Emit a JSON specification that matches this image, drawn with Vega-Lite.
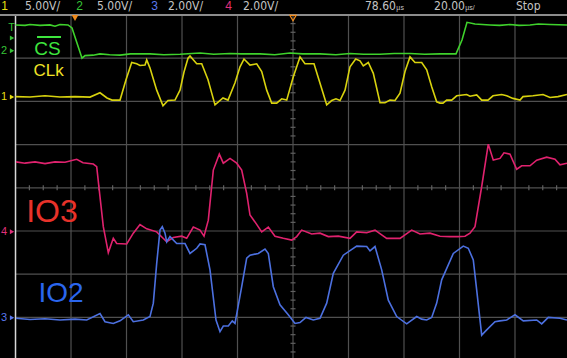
{
  "$schema": "https://vega.github.io/schema/vega-lite/v6.json",
  "width": 567,
  "height": 358,
  "padding": 0,
  "autosize": {"type": "none"},
  "background": "#000000",
  "config": {"view": {"stroke": null}, "font": "Liberation Sans"},
  "datasets": {
    "gridx": [{"t": -1.44}, {"t": 18.56}, {"t": 38.56}, {"t": 58.56}, {"t": 78.56}, {"t": 98.56}, {"t": 118.56}, {"t": 138.56}, {"t": 158.56}],
    "gridy": [{"v": 3}, {"v": 2}, {"v": 1}, {"v": 0}, {"v": -1}, {"v": -2}, {"v": -3}],
    "ticksx": [{"t":-16.44},{"t":-11.44},{"t":-6.44},{"t":3.56},{"t":8.56},{"t":13.56},{"t":23.56},{"t":28.56},{"t":33.56},{"t":43.56},{"t":48.56},{"t":53.56},{"t":63.56},{"t":68.56},{"t":73.56},{"t":83.56},{"t":88.56},{"t":93.56},{"t":103.56},{"t":108.56},{"t":113.56},{"t":123.56},{"t":128.56},{"t":133.56},{"t":143.56},{"t":148.56},{"t":153.56},{"t":163.56},{"t":168.56},{"t":173.56}],
    "ticksy": [{"v":-3.8},{"v":-3.6},{"v":-3.4},{"v":-3.2},{"v":-2.8},{"v":-2.6},{"v":-2.4},{"v":-2.2},{"v":-1.8},{"v":-1.6},{"v":-1.4},{"v":-1.2},{"v":-0.8},{"v":-0.6},{"v":-0.4},{"v":-0.2},{"v":0.2},{"v":0.4},{"v":0.6},{"v":0.8},{"v":1.2},{"v":1.4},{"v":1.6},{"v":1.8},{"v":2.2},{"v":2.4},{"v":2.6},{"v":2.8},{"v":3.2},{"v":3.4},{"v":3.6},{"v":3.8}],
    "traces": [
      {"ch":"CS","t":-21.44,"v":3.77},{"ch":"CS","t":-18,"v":3.76},{"ch":"CS","t":-16.22,"v":3.78},{"ch":"CS","t":-12.61,"v":3.76},{"ch":"CS","t":-9.01,"v":3.77},{"ch":"CS","t":-7.21,"v":3.74},{"ch":"CS","t":-5.41,"v":3.78},{"ch":"CS","t":-2.52,"v":3.77},{"ch":"CS","t":-1.08,"v":3.70},{"ch":"CS","t":2.52,"v":3.00},{"ch":"CS","t":3.60,"v":3.06},{"ch":"CS","t":6.49,"v":3.07},{"ch":"CS","t":9.01,"v":3.10},{"ch":"CS","t":12.5,"v":3.08},{"ch":"CS","t":16.22,"v":3.07},{"ch":"CS","t":20,"v":3.10},{"ch":"CS","t":27.03,"v":3.10},{"ch":"CS","t":32,"v":3.08},{"ch":"CS","t":37.84,"v":3.09},{"ch":"CS","t":45.05,"v":3.12},{"ch":"CS","t":50,"v":3.09},{"ch":"CS","t":55.86,"v":3.11},{"ch":"CS","t":60,"v":3.10},{"ch":"CS","t":66.67,"v":3.10},{"ch":"CS","t":72,"v":3.08},{"ch":"CS","t":77.48,"v":3.12},{"ch":"CS","t":82,"v":3.10},{"ch":"CS","t":88.29,"v":3.10},{"ch":"CS","t":94,"v":3.08},{"ch":"CS","t":99.10,"v":3.11},{"ch":"CS","t":104,"v":3.09},{"ch":"CS","t":109.91,"v":3.09},{"ch":"CS","t":115,"v":3.11},{"ch":"CS","t":120.72,"v":3.11},{"ch":"CS","t":126,"v":3.09},{"ch":"CS","t":131.53,"v":3.10},{"ch":"CS","t":137.30,"v":3.10},{"ch":"CS","t":139.46,"v":3.42},{"ch":"CS","t":141.26,"v":3.83},{"ch":"CS","t":144.14,"v":3.79},{"ch":"CS","t":149.55,"v":3.77},{"ch":"CS","t":153,"v":3.76},{"ch":"CS","t":156.76,"v":3.78},{"ch":"CS","t":160,"v":3.76},{"ch":"CS","t":163.96,"v":3.77},{"ch":"CS","t":167,"v":3.79},{"ch":"CS","t":171.17,"v":3.78},{"ch":"CS","t":177.30,"v":3.77},
      {"ch":"CLK","t":-21.44,"v":2.11},{"ch":"CLK","t":-16.22,"v":2.10},{"ch":"CLK","t":-10.81,"v":2.13},{"ch":"CLK","t":-5.41,"v":2.10},{"ch":"CLK","t":0,"v":2.11},{"ch":"CLK","t":5.41,"v":2.10},{"ch":"CLK","t":9.01,"v":2.20},{"ch":"CLK","t":11.53,"v":2.08},{"ch":"CLK","t":13.33,"v":2.03},{"ch":"CLK","t":16.22,"v":2.03},{"ch":"CLK","t":18.38,"v":2.50},{"ch":"CLK","t":20.43,"v":2.90},{"ch":"CLK","t":22.23,"v":2.87},{"ch":"CLK","t":23.42,"v":2.83},{"ch":"CLK","t":25.23,"v":2.84},{"ch":"CLK","t":25.84,"v":2.96},{"ch":"CLK","t":27.03,"v":2.77},{"ch":"CLK","t":29.44,"v":2.26},{"ch":"CLK","t":31.71,"v":1.90},{"ch":"CLK","t":33.51,"v":2.02},{"ch":"CLK","t":36.04,"v":2.03},{"ch":"CLK","t":37.84,"v":2.26},{"ch":"CLK","t":39.28,"v":2.68},{"ch":"CLK","t":40.72,"v":3.00},{"ch":"CLK","t":41.44,"v":3.05},{"ch":"CLK","t":43.86,"v":2.87},{"ch":"CLK","t":45.66,"v":2.87},{"ch":"CLK","t":47.93,"v":2.50},{"ch":"CLK","t":50.45,"v":1.92},{"ch":"CLK","t":53.33,"v":2.08},{"ch":"CLK","t":55.14,"v":2.03},{"ch":"CLK","t":57.66,"v":2.43},{"ch":"CLK","t":59.46,"v":2.80},{"ch":"CLK","t":60.90,"v":2.98},{"ch":"CLK","t":63.06,"v":2.84},{"ch":"CLK","t":65.48,"v":2.87},{"ch":"CLK","t":67.28,"v":2.69},{"ch":"CLK","t":69.08,"v":2.26},{"ch":"CLK","t":70.88,"v":1.96},{"ch":"CLK","t":72.68,"v":1.96},{"ch":"CLK","t":74.49,"v":2.06},{"ch":"CLK","t":76.29,"v":2.03},{"ch":"CLK","t":78.67,"v":2.57},{"ch":"CLK","t":81.08,"v":3.03},{"ch":"CLK","t":82.88,"v":2.87},{"ch":"CLK","t":86.13,"v":2.87},{"ch":"CLK","t":87.57,"v":2.57},{"ch":"CLK","t":90.70,"v":1.92},{"ch":"CLK","t":92.50,"v":2.02},{"ch":"CLK","t":94.05,"v":2.06},{"ch":"CLK","t":95.50,"v":2.02},{"ch":"CLK","t":97.30,"v":2.26},{"ch":"CLK","t":99.10,"v":2.80},{"ch":"CLK","t":101.15,"v":2.98},{"ch":"CLK","t":102.70,"v":2.94},{"ch":"CLK","t":103.89,"v":2.82},{"ch":"CLK","t":105.69,"v":2.90},{"ch":"CLK","t":107.50,"v":2.65},{"ch":"CLK","t":109.91,"v":1.97},{"ch":"CLK","t":111.71,"v":1.97},{"ch":"CLK","t":113.51,"v":2.03},{"ch":"CLK","t":115.32,"v":2.02},{"ch":"CLK","t":117.12,"v":2.19},{"ch":"CLK","t":118.92,"v":2.69},{"ch":"CLK","t":120.72,"v":3.03},{"ch":"CLK","t":122.52,"v":2.90},{"ch":"CLK","t":124.94,"v":2.90},{"ch":"CLK","t":126.74,"v":2.73},{"ch":"CLK","t":128.54,"v":2.34},{"ch":"CLK","t":130.34,"v":1.99},{"ch":"CLK","t":131.53,"v":1.96},{"ch":"CLK","t":132.61,"v":1.96},{"ch":"CLK","t":133.94,"v":2.03},{"ch":"CLK","t":135.75,"v":2.03},{"ch":"CLK","t":137.55,"v":2.13},{"ch":"CLK","t":141.15,"v":2.16},{"ch":"CLK","t":142.34,"v":2.12},{"ch":"CLK","t":144.76,"v":2.15},{"ch":"CLK","t":146.56,"v":2.03},{"ch":"CLK","t":148.83,"v":2.03},{"ch":"CLK","t":150.63,"v":2.13},{"ch":"CLK","t":153.76,"v":2.16},{"ch":"CLK","t":155.57,"v":2.13},{"ch":"CLK","t":157.84,"v":2.07},{"ch":"CLK","t":160.36,"v":2.03},{"ch":"CLK","t":161.44,"v":2.11},{"ch":"CLK","t":165.05,"v":2.13},{"ch":"CLK","t":168.65,"v":2.16},{"ch":"CLK","t":171.17,"v":2.09},{"ch":"CLK","t":174.05,"v":2.11},{"ch":"CLK","t":177.30,"v":2.16},
      {"ch":"IO3","t":-21.26,"v":0.60},{"ch":"IO3","t":-18.02,"v":0.57},{"ch":"IO3","t":-14.41,"v":0.60},{"ch":"IO3","t":-10.81,"v":0.56},{"ch":"IO3","t":-7.21,"v":0.60},{"ch":"IO3","t":-3.60,"v":0.59},{"ch":"IO3","t":0.61,"v":0.66},{"ch":"IO3","t":2.88,"v":0.58},{"ch":"IO3","t":6.59,"v":0.55},{"ch":"IO3","t":7.82,"v":0.49},{"ch":"IO3","t":9.01,"v":-0.21},{"ch":"IO3","t":10.20,"v":-0.90},{"ch":"IO3","t":12.00,"v":-1.50},{"ch":"IO3","t":13.80,"v":-1.17},{"ch":"IO3","t":15.03,"v":-1.29},{"ch":"IO3","t":18.63,"v":-1.30},{"ch":"IO3","t":21.01,"v":-1.05},{"ch":"IO3","t":23.42,"v":-0.85},{"ch":"IO3","t":25.84,"v":-0.95},{"ch":"IO3","t":29.44,"v":-1.02},{"ch":"IO3","t":33.05,"v":-1.25},{"ch":"IO3","t":35.42,"v":-1.15},{"ch":"IO3","t":38.45,"v":-1.12},{"ch":"IO3","t":40.25,"v":-1.17},{"ch":"IO3","t":42.63,"v":-0.91},{"ch":"IO3","t":45.05,"v":-0.98},{"ch":"IO3","t":46.49,"v":-1.12},{"ch":"IO3","t":48.04,"v":-0.75},{"ch":"IO3","t":49.84,"v":0.41},{"ch":"IO3","t":52.00,"v":0.78},{"ch":"IO3","t":53.44,"v":0.57},{"ch":"IO3","t":55.86,"v":0.68},{"ch":"IO3","t":58.27,"v":0.57},{"ch":"IO3","t":60.07,"v":0.41},{"ch":"IO3","t":61.87,"v":-0.13},{"ch":"IO3","t":63.06,"v":-0.63},{"ch":"IO3","t":64.86,"v":-0.79},{"ch":"IO3","t":67.28,"v":-1.02},{"ch":"IO3","t":69.66,"v":-0.91},{"ch":"IO3","t":72.07,"v":-1.12},{"ch":"IO3","t":75.06,"v":-1.17},{"ch":"IO3","t":78.09,"v":-1.21},{"ch":"IO3","t":79.89,"v":-1.13},{"ch":"IO3","t":81.69,"v":-0.98},{"ch":"IO3","t":85.30,"v":-1.07},{"ch":"IO3","t":88.29,"v":-1.05},{"ch":"IO3","t":91.28,"v":-1.13},{"ch":"IO3","t":94.88,"v":-1.12},{"ch":"IO3","t":99.10,"v":-1.17},{"ch":"IO3","t":101.51,"v":-1.02},{"ch":"IO3","t":105.12,"v":-1.04},{"ch":"IO3","t":108.11,"v":-0.98},{"ch":"IO3","t":110.52,"v":-1.09},{"ch":"IO3","t":112.32,"v":-1.17},{"ch":"IO3","t":117.12,"v":-1.17},{"ch":"IO3","t":118.92,"v":-1.09},{"ch":"IO3","t":121.33,"v":-0.98},{"ch":"IO3","t":124.32,"v":-1.07},{"ch":"IO3","t":127.93,"v":-1.05},{"ch":"IO3","t":131.53,"v":-1.12},{"ch":"IO3","t":135.14,"v":-1.13},{"ch":"IO3","t":138.12,"v":-1.13},{"ch":"IO3","t":140.54,"v":-1.12},{"ch":"IO3","t":142.34,"v":-1.05},{"ch":"IO3","t":144.14,"v":-0.90},{"ch":"IO3","t":146.56,"v":0.03},{"ch":"IO3","t":148.93,"v":1.01},{"ch":"IO3","t":150.74,"v":0.64},{"ch":"IO3","t":153.15,"v":0.68},{"ch":"IO3","t":154.59,"v":0.81},{"ch":"IO3","t":156.76,"v":0.78},{"ch":"IO3","t":159.17,"v":0.43},{"ch":"IO3","t":160.97,"v":0.51},{"ch":"IO3","t":163.96,"v":0.51},{"ch":"IO3","t":166.38,"v":0.64},{"ch":"IO3","t":169.98,"v":0.71},{"ch":"IO3","t":172.97,"v":0.66},{"ch":"IO3","t":174.77,"v":0.53},{"ch":"IO3","t":177.30,"v":0.57},
      {"ch":"IO2","t":-21.26,"v":-3.02},{"ch":"IO2","t":-16.22,"v":-3.05},{"ch":"IO2","t":-10.81,"v":-3.03},{"ch":"IO2","t":-5.41,"v":-3.06},{"ch":"IO2","t":0,"v":-3.04},{"ch":"IO2","t":4.22,"v":-3.06},{"ch":"IO2","t":9.01,"v":-2.91},{"ch":"IO2","t":10.81,"v":-3.10},{"ch":"IO2","t":13.80,"v":-3.14},{"ch":"IO2","t":16.22,"v":-3.08},{"ch":"IO2","t":19.21,"v":-2.94},{"ch":"IO2","t":21.01,"v":-3.10},{"ch":"IO2","t":24.61,"v":-3.06},{"ch":"IO2","t":27.03,"v":-2.98},{"ch":"IO2","t":28.22,"v":-2.67},{"ch":"IO2","t":29.44,"v":-1.75},{"ch":"IO2","t":30.63,"v":-0.98},{"ch":"IO2","t":31.46,"v":-0.90},{"ch":"IO2","t":32.43,"v":-1.05},{"ch":"IO2","t":33.05,"v":-1.25},{"ch":"IO2","t":34.23,"v":-1.13},{"ch":"IO2","t":36.65,"v":-1.29},{"ch":"IO2","t":39.64,"v":-1.29},{"ch":"IO2","t":41.44,"v":-1.52},{"ch":"IO2","t":43.86,"v":-1.40},{"ch":"IO2","t":45.05,"v":-1.30},{"ch":"IO2","t":46.85,"v":-1.32},{"ch":"IO2","t":48.65,"v":-1.90},{"ch":"IO2","t":50.81,"v":-3.06},{"ch":"IO2","t":52.25,"v":-3.33},{"ch":"IO2","t":53.44,"v":-3.20},{"ch":"IO2","t":55.24,"v":-3.20},{"ch":"IO2","t":56.68,"v":-3.08},{"ch":"IO2","t":57.66,"v":-3.14},{"ch":"IO2","t":60.07,"v":-2.29},{"ch":"IO2","t":61.87,"v":-1.63},{"ch":"IO2","t":63.06,"v":-1.56},{"ch":"IO2","t":66.05,"v":-1.52},{"ch":"IO2","t":68.47,"v":-1.42},{"ch":"IO2","t":69.66,"v":-1.52},{"ch":"IO2","t":71.46,"v":-2.29},{"ch":"IO2","t":73.87,"v":-2.71},{"ch":"IO2","t":76.86,"v":-2.94},{"ch":"IO2","t":79.28,"v":-3.14},{"ch":"IO2","t":81.08,"v":-3.12},{"ch":"IO2","t":83.24,"v":-3.00},{"ch":"IO2","t":85.87,"v":-3.06},{"ch":"IO2","t":88.29,"v":-3.02},{"ch":"IO2","t":90.70,"v":-2.67},{"ch":"IO2","t":93.08,"v":-1.98},{"ch":"IO2","t":96.69,"v":-1.56},{"ch":"IO2","t":101.51,"v":-1.35},{"ch":"IO2","t":105.12,"v":-1.36},{"ch":"IO2","t":106.31,"v":-1.46},{"ch":"IO2","t":108.11,"v":-1.36},{"ch":"IO2","t":110.52,"v":-1.90},{"ch":"IO2","t":112.90,"v":-2.60},{"ch":"IO2","t":115.93,"v":-2.98},{"ch":"IO2","t":119.53,"v":-3.15},{"ch":"IO2","t":123.14,"v":-2.98},{"ch":"IO2","t":124.94,"v":-3.04},{"ch":"IO2","t":126.74,"v":-3.06},{"ch":"IO2","t":128.54,"v":-3.00},{"ch":"IO2","t":130.34,"v":-2.67},{"ch":"IO2","t":132.14,"v":-2.13},{"ch":"IO2","t":136.33,"v":-1.52},{"ch":"IO2","t":139.93,"v":-1.35},{"ch":"IO2","t":141.73,"v":-1.40},{"ch":"IO2","t":143.53,"v":-1.67},{"ch":"IO2","t":144.76,"v":-2.37},{"ch":"IO2","t":146.56,"v":-3.41},{"ch":"IO2","t":148.36,"v":-3.29},{"ch":"IO2","t":151.35,"v":-3.10},{"ch":"IO2","t":153.15,"v":-3.08},{"ch":"IO2","t":155.57,"v":-3.06},{"ch":"IO2","t":158.56,"v":-2.94},{"ch":"IO2","t":161.55,"v":-3.08},{"ch":"IO2","t":166.38,"v":-3.06},{"ch":"IO2","t":168.18,"v":-3.15},{"ch":"IO2","t":170.56,"v":-3.00},{"ch":"IO2","t":174.77,"v":-3.02},{"ch":"IO2","t":177.30,"v":-3.06}
    ],
    "header": [{"label":"5.00V/","t":-18.02},{"label":"5.00V/","t":7.93},{"label":"2.00V/","t":33.51},{"label":"2.00V/","t":60.54},{"label":"78.60","t":104.5},{"label":"20.00","t":129.4},{"label":"Stop","t":158.92}],
    "units": [{"label":"µs","t":115.8},{"label":"µs/","t":140.6}],
    "headnum": [{"label":"1","t":-25.41},{"label":"2","t":1.62},{"label":"3","t":28.65},{"label":"4","t":55.32}],
    "chmark": [{"label":"T","c":"2","t":-22.88,"v":3.70},{"label":"2","c":"2","t":-25.59,"v":3.17},{"label":"1","c":"1","t":-25.59,"v":2.10},{"label":"4","c":"4","t":-25.59,"v":-1.02},{"label":"3","c":"3","t":-25.59,"v":-3.01}],
    "charrow": [{"c":"2","t":-22.7,"v":3.47},{"c":"2","t":-22.7,"v":3.17},{"c":"1","t":-22.7,"v":2.10},{"c":"4","t":-22.7,"v":-1.02},{"c":"3","t":-22.7,"v":-3.01}]
  },
  "resolve": {"scale": {"color": "independent"}},
  "layer": [
    {
      "data": {"name": "gridx"},
      "mark": {"type": "rule", "color": "#505050", "strokeWidth": 1.2},
      "encoding": {
        "x": {"field": "t", "type": "quantitative", "scale": {"domain": [-27.03, 177.3], "nice": false, "zero": false}, "axis": null},
        "y": {"datum": -3.94, "type": "quantitative", "scale": {"domain": [-3.94, 4.347], "nice": false, "zero": false}, "axis": null},
        "y2": {"datum": 4}
      }
    },
    {
      "data": {"name": "gridy"},
      "mark": {"type": "rule", "color": "#505050", "strokeWidth": 1.2},
      "encoding": {
        "x": {"datum": -21.44, "type": "quantitative", "scale": {"domain": [-27.03, 177.3], "nice": false, "zero": false}, "axis": null},
        "x2": {"datum": 177.3},
        "y": {"field": "v", "type": "quantitative", "scale": {"domain": [-3.94, 4.347], "nice": false, "zero": false}, "axis": null}
      }
    },
    {
      "data": {"name": "ticksx"},
      "mark": {"type": "tick", "orient": "vertical", "size": 5, "thickness": 1.2, "color": "#606060", "opacity": 1},
      "encoding": {
        "x": {"field": "t", "type": "quantitative", "scale": {"domain": [-27.03, 177.3], "nice": false, "zero": false}, "axis": null},
        "y": {"datum": 0, "type": "quantitative", "scale": {"domain": [-3.94, 4.347], "nice": false, "zero": false}, "axis": null}
      }
    },
    {
      "data": {"name": "ticksy"},
      "mark": {"type": "tick", "orient": "horizontal", "size": 5, "thickness": 1.2, "color": "#606060", "opacity": 1},
      "encoding": {
        "x": {"datum": 78.56, "type": "quantitative", "scale": {"domain": [-27.03, 177.3], "nice": false, "zero": false}, "axis": null},
        "y": {"field": "v", "type": "quantitative", "scale": {"domain": [-3.94, 4.347], "nice": false, "zero": false}, "axis": null}
      }
    },
    {
      "data": {"values": [{}]},
      "mark": {"type": "rule", "color": "#d8d8d8", "strokeWidth": 1.5},
      "encoding": {
        "x": {"datum": -21.44, "type": "quantitative", "scale": {"domain": [-27.03, 177.3], "nice": false, "zero": false}, "axis": null},
        "y": {"datum": -3.94, "type": "quantitative", "scale": {"domain": [-3.94, 4.347], "nice": false, "zero": false}, "axis": null},
        "y2": {"datum": 4}
      }
    },
    {
      "data": {"values": [{}]},
      "mark": {"type": "rule", "color": "#8c8c8c", "strokeWidth": 2},
      "encoding": {
        "x": {"datum": -27.03, "type": "quantitative", "scale": {"domain": [-27.03, 177.3], "nice": false, "zero": false}, "axis": null},
        "x2": {"datum": 177.3},
        "y": {"datum": 4, "type": "quantitative", "scale": {"domain": [-3.94, 4.347], "nice": false, "zero": false}, "axis": null}
      }
    },
    {
      "data": {"name": "traces"},
      "mark": {"type": "line", "strokeWidth": 1.6, "interpolate": "linear"},
      "encoding": {
        "x": {"field": "t", "type": "quantitative", "scale": {"domain": [-27.03, 177.3], "nice": false, "zero": false}, "axis": null},
        "y": {"field": "v", "type": "quantitative", "scale": {"domain": [-3.94, 4.347], "nice": false, "zero": false}, "axis": null},
        "color": {"field": "ch", "type": "nominal", "scale": {"domain": ["CS", "CLK", "IO3", "IO2"], "range": ["#3fd22c", "#d8d20e", "#e0226e", "#4c70e0"]}, "legend": null}
      }
    },
    {
      "data": {"name": "header"},
      "mark": {"type": "text", "align": "left", "baseline": "alphabetic", "fontSize": 12, "color": "#c4c4c4", "font": "Liberation Sans Narrow, DejaVu Sans Condensed, Liberation Sans"},
      "encoding": {
        "x": {"field": "t", "type": "quantitative", "scale": {"domain": [-27.03, 177.3], "nice": false, "zero": false}, "axis": null},
        "y": {"datum": 4.12, "type": "quantitative", "scale": {"domain": [-3.94, 4.347], "nice": false, "zero": false}, "axis": null},
        "text": {"field": "label"}
      }
    },
    {
      "data": {"name": "units"},
      "mark": {"type": "text", "align": "left", "baseline": "alphabetic", "fontSize": 7, "color": "#c4c4c4"},
      "encoding": {
        "x": {"field": "t", "type": "quantitative", "scale": {"domain": [-27.03, 177.3], "nice": false, "zero": false}, "axis": null},
        "y": {"datum": 4.12, "type": "quantitative", "scale": {"domain": [-3.94, 4.347], "nice": false, "zero": false}, "axis": null},
        "text": {"field": "label"}
      }
    },
    {
      "data": {"name": "headnum"},
      "mark": {"type": "text", "align": "center", "baseline": "alphabetic", "fontSize": 12},
      "encoding": {
        "x": {"field": "t", "type": "quantitative", "scale": {"domain": [-27.03, 177.3], "nice": false, "zero": false}, "axis": null},
        "y": {"datum": 4.12, "type": "quantitative", "scale": {"domain": [-3.94, 4.347], "nice": false, "zero": false}, "axis": null},
        "text": {"field": "label"},
        "color": {"field": "label", "type": "nominal", "scale": {"domain": ["1", "2", "3", "4"], "range": ["#e6de10", "#36c436", "#5a78f0", "#e0307a"]}, "legend": null}
      }
    },
    {
      "data": {"values": [{}]},
      "mark": {"type": "point", "shape": "triangle-down", "size": 45, "filled": true, "color": "#f08a1c", "opacity": 1},
      "encoding": {
        "x": {"datum": 0, "type": "quantitative", "scale": {"domain": [-27.03, 177.3], "nice": false, "zero": false}, "axis": null},
        "y": {"datum": 3.93, "type": "quantitative", "scale": {"domain": [-3.94, 4.347], "nice": false, "zero": false}, "axis": null}
      }
    },
    {
      "data": {"values": [{}]},
      "mark": {"type": "point", "shape": "triangle-down", "size": 40, "filled": false, "color": "#f08a1c", "strokeWidth": 1.2, "opacity": 1},
      "encoding": {
        "x": {"datum": 78.56, "type": "quantitative", "scale": {"domain": [-27.03, 177.3], "nice": false, "zero": false}, "axis": null},
        "y": {"datum": 3.93, "type": "quantitative", "scale": {"domain": [-3.94, 4.347], "nice": false, "zero": false}, "axis": null}
      }
    },
    {
      "data": {"name": "chmark"},
      "mark": {"type": "text", "align": "center", "baseline": "middle", "fontSize": 11},
      "encoding": {
        "x": {"field": "t", "type": "quantitative", "scale": {"domain": [-27.03, 177.3], "nice": false, "zero": false}, "axis": null},
        "y": {"field": "v", "type": "quantitative", "scale": {"domain": [-3.94, 4.347], "nice": false, "zero": false}, "axis": null},
        "text": {"field": "label"},
        "color": {"field": "c", "type": "nominal", "scale": {"domain": ["1", "2", "3", "4"], "range": ["#e6de10", "#36c436", "#5a78f0", "#e0307a"]}, "legend": null}
      }
    },
    {
      "data": {"name": "charrow"},
      "mark": {"type": "point", "shape": "triangle-right", "size": 25, "filled": true, "opacity": 1},
      "encoding": {
        "x": {"field": "t", "type": "quantitative", "scale": {"domain": [-27.03, 177.3], "nice": false, "zero": false}, "axis": null},
        "y": {"field": "v", "type": "quantitative", "scale": {"domain": [-3.94, 4.347], "nice": false, "zero": false}, "axis": null},
        "color": {"field": "c", "type": "nominal", "scale": {"domain": ["1", "2", "3", "4"], "range": ["#e6de10", "#36c436", "#5a78f0", "#e0307a"]}, "legend": null}
      }
    },
    {
      "data": {"values": [{}]},
      "mark": {"type": "text", "text": "CS", "align": "center", "baseline": "middle", "fontSize": 19, "color": "#3ee63e"},
      "encoding": {
        "x": {"datum": -9.91, "type": "quantitative", "scale": {"domain": [-27.03, 177.3], "nice": false, "zero": false}, "axis": null},
        "y": {"datum": 3.22, "type": "quantitative", "scale": {"domain": [-3.94, 4.347], "nice": false, "zero": false}, "axis": null}
      }
    },
    {
      "data": {"values": [{}]},
      "mark": {"type": "rule", "color": "#3ee63e", "strokeWidth": 2},
      "encoding": {
        "x": {"datum": -13.69, "type": "quantitative", "scale": {"domain": [-27.03, 177.3], "nice": false, "zero": false}, "axis": null},
        "x2": {"datum": -5.05},
        "y": {"datum": 3.49, "type": "quantitative", "scale": {"domain": [-3.94, 4.347], "nice": false, "zero": false}, "axis": null}
      }
    },
    {
      "data": {"values": [{}]},
      "mark": {"type": "text", "text": "CLk", "align": "center", "baseline": "middle", "fontSize": 17, "color": "#f0e226"},
      "encoding": {
        "x": {"datum": -9.55, "type": "quantitative", "scale": {"domain": [-27.03, 177.3], "nice": false, "zero": false}, "axis": null},
        "y": {"datum": 2.70, "type": "quantitative", "scale": {"domain": [-3.94, 4.347], "nice": false, "zero": false}, "axis": null}
      }
    },
    {
      "data": {"values": [{}]},
      "mark": {"type": "text", "text": "IO3", "align": "center", "baseline": "middle", "fontSize": 32, "color": "#e8322a"},
      "encoding": {
        "x": {"datum": -8.29, "type": "quantitative", "scale": {"domain": [-27.03, 177.3], "nice": false, "zero": false}, "axis": null},
        "y": {"datum": -0.56, "type": "quantitative", "scale": {"domain": [-3.94, 4.347], "nice": false, "zero": false}, "axis": null}
      }
    },
    {
      "data": {"values": [{}]},
      "mark": {"type": "text", "text": "IO2", "align": "center", "baseline": "middle", "fontSize": 28, "color": "#2a66ee"},
      "encoding": {
        "x": {"datum": -5.05, "type": "quantitative", "scale": {"domain": [-27.03, 177.3], "nice": false, "zero": false}, "axis": null},
        "y": {"datum": -2.46, "type": "quantitative", "scale": {"domain": [-3.94, 4.347], "nice": false, "zero": false}, "axis": null}
      }
    }
  ]
}
